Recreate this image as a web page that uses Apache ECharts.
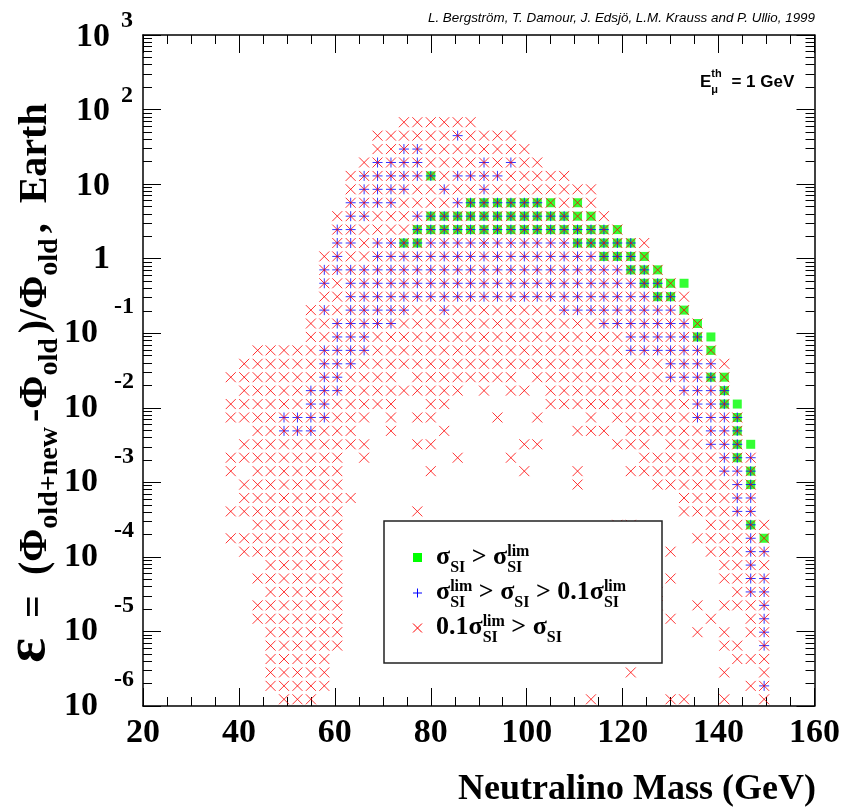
<!DOCTYPE html>
<html>
<head>
<meta charset="utf-8">
<title>Neutralino models, Earth</title>
<script src="https://cdn.jsdelivr.net/npm/echarts@6.0.0/dist/echarts.min.js"></script>
<style>
  html, body { margin: 0; padding: 0; background: #fff; }
  #main { width: 843px; height: 807px; }
</style>
</head>
<body>
<div id="main"></div>
<script>
// mass bin centres (GeV) of the histogram columns that hold models
var massBins = [38.3, 41.1, 43.9, 46.6, 49.4, 52.2, 55.0, 57.8, 60.5, 63.3,
                66.1, 68.9, 71.7, 74.4, 77.2, 80.0, 82.8, 85.6, 88.3, 91.1,
                93.9, 96.7, 99.5, 102.2, 105.0, 107.8, 110.6, 113.4, 116.1, 118.9,
                121.7, 124.5, 127.3, 130.0, 132.8, 135.6, 138.4, 141.2, 143.9, 146.7,
                149.5];
// log10(epsilon) bin centres, bottom row first
var logEpsBins = [-5.91, -5.73, -5.55, -5.37, -5.19, -5.01, -4.83, -4.65, -4.47, -4.29,
                  -4.11, -3.93, -3.75, -3.57, -3.39, -3.21, -3.03, -2.85, -2.67, -2.49,
                  -2.31, -2.13, -1.95, -1.77, -1.59, -1.41, -1.23, -1.05, -0.87, -0.69,
                  -0.51, -0.33, -0.15, 0.03, 0.21, 0.39, 0.57, 0.75, 0.93, 1.11,
                  1.29, 1.47, 1.65, 1.83];
// occupied cells, top row first, one character per mass bin
// .  empty   x  red only   *  blue + red   G  green + red   #  all three   g  green only
var cellRows = [
  "..... ..... ...xx xxxx. ..... ..... ..... ..... .",
  "..... ..... .xxxx xx*xx xx... ..... ..... ..... .",
  "..... ..... .xx** xxxxx xxx.. ..... ..... ..... .",
  "..... ..... x**** xxxx* x*xx. ..... ..... ..... .",
  "..... ....x ***** #x*** *xxxx x.... ..... ..... .",
  "..... ....x ****x x*xx* xxxxx xxx.. ..... ..... .",
  "..... ....* ***xx xx*## ####G xGx.. ..... ..... .",
  "..... ...x* *xxx* ##### ##### #GGx. ..... ..... .",
  "..... ...** xxxx# ##### ##### ####G ..... ..... .",
  "..... ...** x**## ***** ***** *#### #x... ..... .",
  "..... ..x*x x**** ***** ***** ***## #G... ..... .",
  "..... ..*** ***** ***** ***** ***** ##G.. ..... .",
  "..... ..*x* ***** ***** ***** ***** *##Gg ..... .",
  "..... ..xx* ***** ***** ***** ***** **##x ..... .",
  "..... .x*x* ****x x*xxx xxxxx ***** ****G ..... .",
  "..... .xx** ***xx xxxxx xxxxx xxx** ***** G.... .",
  "..... .xx** *xxxx xxxxx xxxxx xxxxx ***** #g... .",
  "..xxx xx*** *xxxx xxxxx xxxxx xxxxx ***** *G... .",
  ".xxxx xx*** xxxxx xxxxx xxxxx xxxxx xxx** **x.. .",
  "xxxxx xx**x xxx.x xxxxx xx.xx xxxxx xxx** *#G.. .",
  ".xxxx x***x xxxxx xxx.x .xx.x xxxxx xxxx* **#.. .",
  "xxxxx x**xx xxx.. xx... ....x xxxxx xxxxx **#g. .",
  "xxxx* ***xx x.x.x x.... x..x. ..x.x xxxxx ***#. .",
  "..xx* **xxx ..x.. .x... ..... .xxx. xxxxx x**#. .",
  ".xxxx xxxxx x...x x.... ..xx. ....x xx.xx x**#g .",
  "xxxxx xxxx. x.... ..x.. .x... ..... .xxxx xx*#* .",
  "x.xxx xxxx. ..... x.... ..x.. .x... xxxxx xx**# .",
  ".xxxx xxxx. ..... ..... ..... .x... ..xxx xxx*# .",
  ".xxxx xxxxx ..... ..... ..... ..... ....x xxx** .",
  "xxxxx xxxx. ....x ..... ..... ..... ....x xxx** .",
  "..xxx xxxx. ..... ..... ..... ....x x.... .xxx# x",
  "xxxxx xxxx. ..... ..... ..... ..... ..... xxxx* G",
  ".xxxx xxxx. ..... ..... ..... ..... ...x. .xxx* *",
  "...xx xxxx. ..... ..... ..... ..... ..... ..xx* x",
  "..xxx xxxx. ..... ..... ..... ..... ...x. ..xx* *",
  "...xx xxxx. ..... ..... ..... ..... ..x.. ...x* *",
  "..xxx xxxx. ..... ..... ..... ..... ..x.. x.xxx *",
  "..xxx xxxx. ..... ..... ..... ..... ...x. .x..x *",
  "...xx xxxx. ..... ..... ..... ..... ..... x.x.x *",
  "...xx xxxx. ..... ..... ..... ..... ..... ..xx. *",
  "...xx xxx.. ..... ..... ..... ..... ..... ...xx x",
  "...xx xxx.. ..... ..... ..... ..... x.... ..x.. x",
  "...xx xxx.. ..... ..... ..... ..... ..... ....x *",
  "....x xx... ..... ..... ..... ..x.. ...xx ..x.. x"
];
var decadeExps = [3, 2, 1, 0, -1, -2, -3, -4, -5, -6];

var redPts = [], bluePts = [], greenPts = [];
cellRows.forEach(function (row, r) {
  var cells = row.replace(/ /g, '');
  var eps = Math.pow(10, logEpsBins[cellRows.length - 1 - r]);
  for (var k = 0; k < cells.length; k++) {
    var c = cells.charAt(k);
    if (c === '.') continue;
    var p = [massBins[k], eps];
    if ('x*G#'.indexOf(c) >= 0) redPts.push(p);
    if ('*#'.indexOf(c) >= 0) bluePts.push(p);
    if ('gG#'.indexOf(c) >= 0) greenPts.push(p);
  }
});

var majorEps = decadeExps.map(function (e) { return Math.pow(10, e); });
var minorEps = [];
for (var n = -6; n < 3; n++) {
  for (var m = 2; m <= 9; m++) minorEps.push(m * Math.pow(10, n));
}

var chart = echarts.init(document.getElementById('main'));
var frame = {color: '#000', width: 1.5};
var tickStyle = {color: '#000', width: 1};

function xAxisDef(pos, withLabels) {
  return {
    type: 'value', position: pos, min: 20, max: 160, interval: 20,
    axisLine: {show: true, onZero: false, lineStyle: frame},
    axisTick: {show: true, inside: true, length: 18, lineStyle: tickStyle},
    minorTick: {show: true, splitNumber: 4, length: 9, lineStyle: tickStyle},
    axisLabel: {show: withLabels, margin: 10, color: '#000',
      fontFamily: 'Liberation Serif', fontWeight: 'bold', fontSize: 34},
    splitLine: {show: false}
  };
}
function yAxisDef(pos, ticks, len, withLine) {
  return {
    type: 'log', logBase: 10, position: pos, min: 1e-6, max: 1e3,
    axisLine: {show: withLine, onZero: false, lineStyle: frame},
    axisTick: {show: true, inside: true, length: len, customValues: ticks, lineStyle: tickStyle},
    axisLabel: {show: false},
    splitLine: {show: false}
  };
}

chart.setOption({
  animation: false,
  backgroundColor: '#fff',
  grid: {left: 143, right: 24, top: 35, bottom: 101},
  xAxis: [xAxisDef('bottom', true), xAxisDef('top', false)],
  yAxis: [
    yAxisDef('left', majorEps, 18, true),
    yAxisDef('left', minorEps, 9, false),
    yAxisDef('right', majorEps, 18, true),
    yAxisDef('right', minorEps, 9, false)
  ],
  series: [
    {type: 'scatter', data: greenPts, symbol: 'rect', symbolSize: 9, silent: true, z: 2,
      itemStyle: {color: '#00ff00'}},
    {type: 'scatter', data: bluePts, symbol: 'path://M5 0L5 10M0 5L10 5', symbolSize: 10, silent: true, z: 3,
      itemStyle: {color: 'none', borderColor: '#0000ff', borderWidth: 1}},
    {type: 'scatter', data: redPts, symbol: 'path://M0 0L10 10M10 0L0 10', symbolSize: 10, silent: true, z: 4,
      itemStyle: {color: 'none', borderColor: '#ff0000', borderWidth: 1}}
  ]
});

// ---- text with sub/superscripts, built from pieces ----
var meas = document.createElement('canvas').getContext('2d');
function textWidth(s, font) { meas.font = font; return meas.measureText(s).width; }
function piece(s, x, base, font, size, color) {
  return {type: 'text', x: x, y: base - 0.34 * size, z: 101, silent: true,
    style: {text: s, font: font, fill: color, align: 'left', textAlign: 'left',
      verticalAlign: 'middle', textVerticalAlign: 'middle'}};
}
function formula(parts, x0, base, cfg) {
  var x = x0, els = [];
  parts.forEach(function (p) {
    if (typeof p === 'string') p = {t: p};
    if (p.t != null) {
      var f = p.big ? cfg.bigFont : cfg.font, sz = p.big ? cfg.bigSize : cfg.size;
      els.push(piece(p.t, x, base, f, sz, cfg.color));
      x += textWidth(p.t, f);
    } else {
      var adv = 0;
      if (p.sup) {
        els.push(piece(p.sup, x, base - cfg.supShift, cfg.small, cfg.smallSize, cfg.color));
        adv = textWidth(p.sup, cfg.small);
      }
      if (p.sub) {
        els.push(piece(p.sub, x, base + cfg.subShift, cfg.small, cfg.smallSize, cfg.color));
        adv = Math.max(adv, textWidth(p.sub, cfg.small));
      }
      x += adv + (cfg.gap || 0);
    }
  });
  return {els: els, width: x - x0};
}
function serif(size) { return 'bold ' + size + "px 'Liberation Serif', serif"; }
function sans(size) { return 'bold ' + size + "px 'Liberation Sans', sans-serif"; }
function plainText(s, x, y, font, align) {
  return {type: 'text', x: x, y: y, z: 101, silent: true,
    style: {text: s, font: font, fill: '#000', align: align, textAlign: align,
      verticalAlign: 'middle', textVerticalAlign: 'middle'}};
}

var g = [];

// y-axis decade labels, ROOT style
decadeExps.forEach(function (e) {
  var py = chart.convertToPixel({yAxisIndex: 0}, Math.pow(10, e));
  if (e === 0) {
    g.push(plainText('1', 110, py + 1, serif(34), 'right'));
  } else if (e === 1) {
    g.push(plainText('10', 110, py + 2, serif(34), 'right'));
  } else if (e > 1) {
    g.push(plainText('10', 110, py + 2, serif(34), 'right'));
    g.push(plainText(String(e), 121, py - 14, serif(24), 'left'));
  } else {
    g.push(plainText('10', 98, py, serif(34), 'right'));
    g.push(plainText('-' + (-e), 134, py - 26, serif(24), 'right'));
  }
});

// axis titles
g.push(plainText('Neutralino Mass (GeV)', 816, 790, serif(36), 'right'));
var ycfg = {font: serif(40), size: 40, small: serif(28), smallSize: 28,
  bigFont: serif(58), bigSize: 58, supShift: 14, subShift: 10, gap: 5, color: '#000'};
var ytitle = formula([{t: 'ε', big: true}, '  =  (Φ', {sub: 'old+new'}, '-Φ', {sub: 'old'},
  ')/Φ', {sub: 'old'}, ',  Earth'], 0, 0, ycfg);
ytitle.els.forEach(function (el) { el.x -= ytitle.width / 2; el.y += 13; });
g.push({type: 'group', x: 36, y: 383, rotation: Math.PI / 2, children: ytitle.els});

// credit line and threshold label
g.push({type: 'text', x: 815, y: 18, z: 101, silent: true,
  style: {text: 'L. Bergström, T. Damour, J. Edsjö, L.M. Krauss and P. Ullio, 1999',
    font: "italic 13.4px 'Liberation Sans', sans-serif", fill: '#000',
    align: 'right', textAlign: 'right', verticalAlign: 'middle', textVerticalAlign: 'middle'}});
var ecfg = {font: sans(17), size: 17, small: sans(11), smallSize: 11, supShift: 10, subShift: 6,
  gap: 5, color: '#000'};
g = g.concat(formula(['E', {sup: 'th', sub: 'μ'}, ' = 1 GeV'], 700, 88, ecfg).els);

// legend box
g.push({type: 'rect', z: 100, silent: true, shape: {x: 384, y: 521, width: 278, height: 142},
  style: {fill: '#fff', stroke: '#222', lineWidth: 1.5}});
g.push({type: 'rect', z: 101, silent: true, shape: {x: 413, y: 553, width: 9, height: 9},
  style: {fill: '#00ff00'}});
g.push({type: 'polyline', z: 101, silent: true, shape: {points: [[417.5, 588.5], [417.5, 597.5]]},
  style: {stroke: '#0000ff', lineWidth: 1}});
g.push({type: 'polyline', z: 101, silent: true, shape: {points: [[413, 593], [422, 593]]},
  style: {stroke: '#0000ff', lineWidth: 1}});
g.push({type: 'polyline', z: 101, silent: true, shape: {points: [[413, 623.5], [422, 632.5]]},
  style: {stroke: '#ff0000', lineWidth: 1}});
g.push({type: 'polyline', z: 101, silent: true, shape: {points: [[422, 623.5], [413, 632.5]]},
  style: {stroke: '#ff0000', lineWidth: 1}});
var lcfg = {font: serif(26), size: 26, small: serif(16), smallSize: 16, supShift: 9, subShift: 7,
  color: '#000'};
var lim = {sup: 'lim', sub: 'SI'}, si = {sub: 'SI'};
g = g.concat(formula(['σ', si, ' > σ', lim], 436, 566, lcfg).els);
g = g.concat(formula(['σ', lim, ' > σ', si, ' > 0.1σ', lim], 436, 601, lcfg).els);
g = g.concat(formula(['0.1σ', lim, ' > σ', si], 436, 636, lcfg).els);

chart.setOption({graphic: {elements: g}});
</script>
</body>
</html>
